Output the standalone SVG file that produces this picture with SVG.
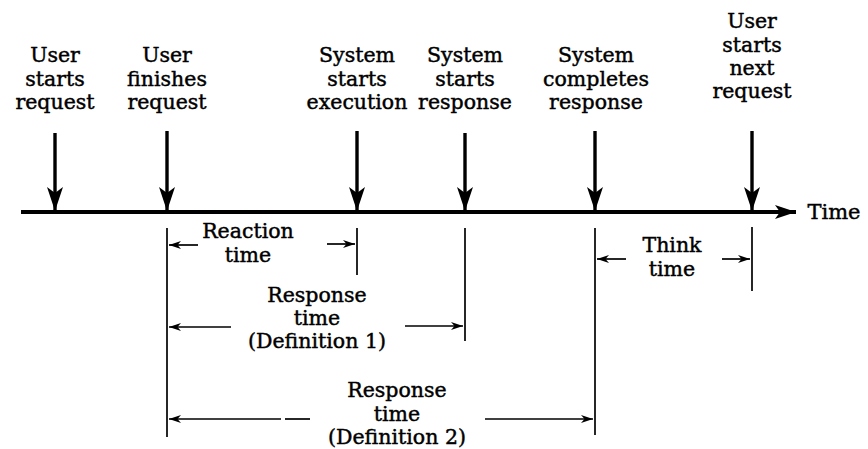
<svg xmlns="http://www.w3.org/2000/svg" width="868" height="449" viewBox="0 0 868 449">
<style>
text{font-family:"DejaVu Serif","Liberation Serif",serif;font-size:20.5px;fill:#000;stroke:#000;stroke-width:0.45;text-anchor:middle}
.down{stroke:#000;stroke-width:3.4;fill:none;marker-end:url(#bigHead)}
.axis{stroke:#000;stroke-width:4;fill:none}
.tick{stroke:#000;stroke-width:1.7;fill:none}
.dim{stroke:#000;stroke-width:1.7;fill:none;marker-end:url(#smallHead)}
</style>
<defs>
<marker id="bigHead" markerUnits="userSpaceOnUse" viewBox="-25 -9 26 18" refX="0" refY="0" markerWidth="26" markerHeight="18" orient="auto">
<path d="M0,0 L-24,-8 L-18,0 L-24,8 Z" fill="#000"/>
</marker>
<marker id="axisHead" markerUnits="userSpaceOnUse" viewBox="-22 -8 23 16" refX="0" refY="0" markerWidth="23" markerHeight="16" orient="auto">
<path d="M0,0 L-21,-7 L-16,0 L-21,7 Z" fill="#000"/>
</marker>
<marker id="smallHead" markerUnits="userSpaceOnUse" viewBox="-13 -5 14 10" refX="0" refY="0" markerWidth="14" markerHeight="10" orient="auto">
<path d="M0,0 L-12,-4 L-8.5,0 L-12,4 Z" fill="#000"/>
</marker>
</defs>

<g id="timeline">
<line class="axis" x1="21" y1="212" x2="796" y2="212" marker-end="url(#axisHead)"/>
<text x="834" y="219" style="font-size:21px">Time</text>
</g>

<g id="user-starts-request">
<text x="55" y="62">User</text>
<text x="55" y="86">starts</text>
<text x="55" y="109">request</text>
</g>
<g id="user-finishes-request">
<text x="167" y="62">User</text>
<text x="167" y="86">finishes</text>
<text x="167" y="109">request</text>
</g>
<g id="system-starts-execution">
<text x="357" y="62">System</text>
<text x="357" y="86">starts</text>
<text x="357" y="109">execution</text>
</g>
<g id="system-starts-response">
<text x="465" y="62">System</text>
<text x="465" y="86">starts</text>
<text x="465" y="109">response</text>
</g>
<g id="system-completes-response">
<text x="596" y="62">System</text>
<text x="596" y="86">completes</text>
<text x="596" y="109">response</text>
</g>
<g id="user-starts-next-request">
<text x="752" y="28">User</text>
<text x="752" y="52">starts</text>
<text x="752" y="75">next</text>
<text x="752" y="98">request</text>
</g>

<g id="connectors">
<line class="down" x1="55" y1="133" x2="55" y2="211"/>
<line class="down" x1="167" y1="131" x2="167" y2="211"/>
<line class="down" x1="357" y1="131" x2="357" y2="211"/>
<line class="down" x1="465" y1="133" x2="465" y2="211"/>
<line class="down" x1="595" y1="131" x2="595" y2="211"/>
<line class="down" x1="752" y1="131" x2="752" y2="211"/>

<line class="tick" x1="167" y1="228" x2="167" y2="437"/>
<line class="tick" x1="357" y1="228" x2="357" y2="275"/>
<line class="tick" x1="465" y1="228" x2="465" y2="341"/>
<line class="tick" x1="595" y1="228" x2="595" y2="435"/>
<line class="tick" x1="752" y1="227" x2="752" y2="291"/>

<line class="dim" x1="198" y1="245" x2="169" y2="245"/>
<line class="dim" x1="327" y1="244" x2="355" y2="244"/>

<line class="dim" x1="231" y1="327" x2="169" y2="327"/>
<line class="dim" x1="405" y1="326" x2="463" y2="326"/>

<line class="dim" x1="281" y1="419" x2="169" y2="419"/>
<line class="tick" x1="285" y1="419" x2="310" y2="419"/>
<line class="dim" x1="485" y1="419" x2="593" y2="419"/>

<line class="dim" x1="626" y1="259" x2="597" y2="259"/>
<line class="dim" x1="722" y1="259" x2="750" y2="259"/>
</g>

<g id="reaction-time">
<text x="248" y="238">Reaction</text>
<text x="248" y="262">time</text>
</g>
<g id="response-time-1">
<text x="317" y="302">Response</text>
<text x="317" y="325">time</text>
<text x="317" y="348">(Definition 1)</text>
</g>
<g id="response-time-2">
<text x="397" y="397">Response</text>
<text x="397" y="421">time</text>
<text x="397" y="444">(Definition 2)</text>
</g>
<g id="think-time">
<text x="672" y="252">Think</text>
<text x="672" y="276">time</text>
</g>
</svg>
